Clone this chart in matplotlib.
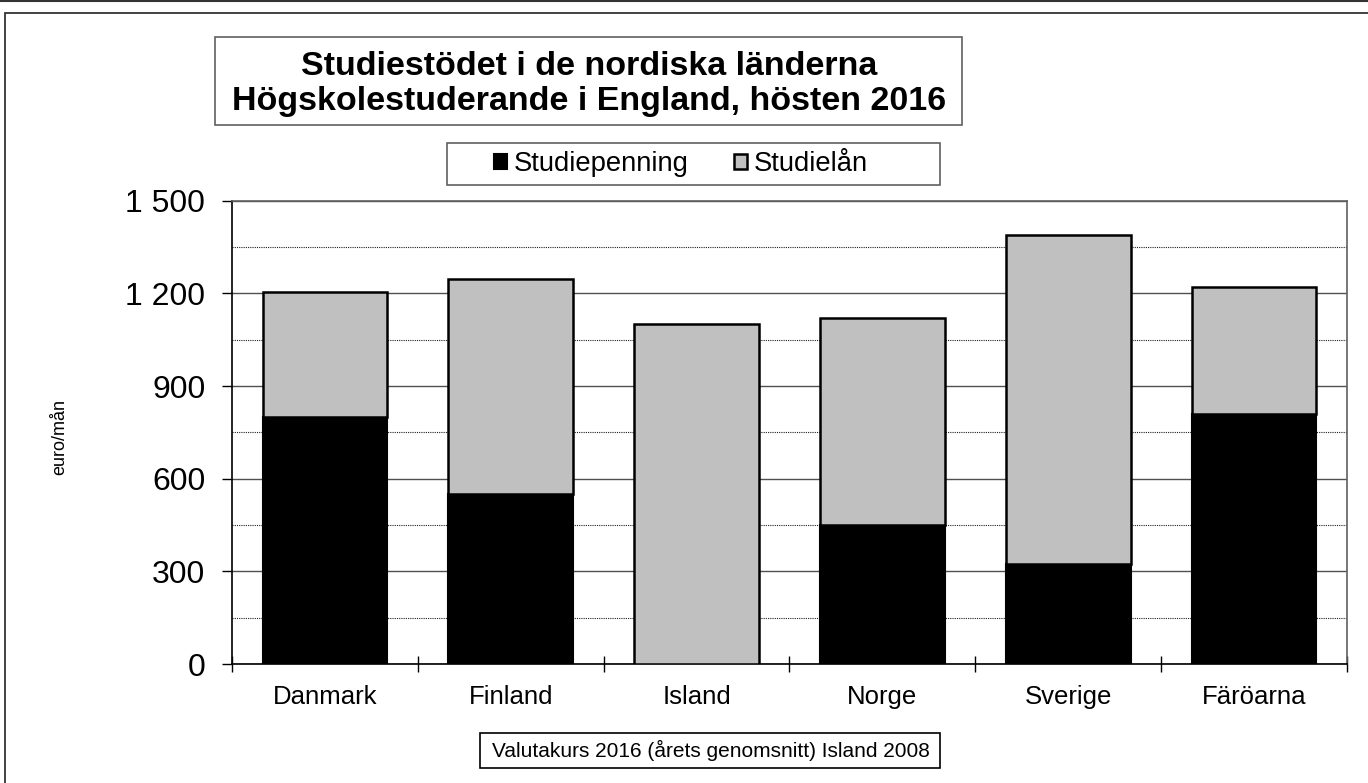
import matplotlib.pyplot as plt
from matplotlib.patches import Rectangle
from matplotlib.lines import Line2D
from matplotlib.ticker import FuncFormatter, MultipleLocator

plt.rcParams['font.family'] = ['Liberation Sans', 'DejaVu Sans']

countries = ["Danmark", "Finland", "Island", "Norge", "Sverige", "Färöarna"]
studiepenning = [800, 550, 0, 450, 325, 810]
studielan = [405, 695, 1100, 670, 1065, 410]

W, H = 1368, 783
fig = plt.figure(figsize=(W / 100, H / 100), dpi=100)


def px_box(x0, y0, x1, y1, **kw):
    # rectangle given in pixel coords, origin top-left
    r = Rectangle((x0 / W, 1 - y1 / H), (x1 - x0) / W, (y1 - y0) / H,
                  transform=fig.transFigure, **kw)
    fig.add_artist(r)
    return r


# outer chart frame
px_box(5, 13, W + 20, H + 20, fill=False, edgecolor="#333333", lw=1.3)
fig.add_artist(Line2D([0, 1], [1 - 1 / H, 1 - 1 / H], transform=fig.transFigure,
                      color="#333333", lw=1.5))

ax = fig.add_axes([232 / W, 1 - 664 / H, (1347 - 232) / W, (664 - 200.7) / H])

x = range(len(countries))
ax.bar(x, studiepenning, width=0.67, color="black", edgecolor="black",
       linewidth=1.5, label="Studiepenning", zorder=3)
ax.bar(x, studielan, width=0.67, bottom=studiepenning, color="#c0c0c0",
       edgecolor="black", linewidth=1.8, label="Studielån", zorder=3)

ax.set_xlim(-0.5, 5.5)
ax.set_ylim(0, 1500)

ax.yaxis.set_major_locator(MultipleLocator(300))
ax.yaxis.set_minor_locator(MultipleLocator(150))
ax.yaxis.set_major_formatter(FuncFormatter(lambda v, p: f"{int(v):,}".replace(",", " ")))
ax.grid(axis="y", which="major", color="#505050", lw=1.0, zorder=0)
ax.grid(axis="y", which="minor", color="#202020", lw=0.8, linestyle=(0, (1, 1)), zorder=0)
ax.tick_params(axis="y", which="major", direction="out", length=7.2, width=1,
               pad=12, labelsize=23)
ax.tick_params(axis="y", which="minor", length=0)

# category boundary ticks, labels sit between them
ax.set_xticks([i - 0.5 for i in range(len(countries) + 1)])
ax.set_xticklabels([])
ax.set_xticks(list(x), minor=True)
ax.set_xticklabels(countries, minor=True)
ax.tick_params(axis="x", which="major", direction="inout", length=11, width=1)
ax.tick_params(axis="x", which="minor", length=0, pad=15, labelsize=18.5)

for side in ["left", "bottom"]:
    ax.spines[side].set_color("black")
    ax.spines[side].set_linewidth(1.2)
for side in ["top", "right"]:
    ax.spines[side].set_color("#606060")
    ax.spines[side].set_linewidth(1.2)

fig.text(60 / W, 1 - 437 / H, "euro/mån", rotation=90, ha="center", va="center",
         fontsize=13)

# title box
px_box(215, 37, 962, 125, fill=False, edgecolor="#606060", lw=1.2)
fig.text(589 / W, 1 - 84 / H,
         "Studiestödet i de nordiska länderna\nHögskolestuderande i England, hösten 2016",
         ha="center", va="center", fontsize=24.5, fontweight="bold", linespacing=1.15)

# legend box
px_box(447, 143, 940, 185, facecolor="white", edgecolor="#606060", lw=1.2)
fig.legend(loc="center", bbox_to_anchor=(681 / W, 1 - 164 / H), ncol=2,
           frameon=False, fontsize=19.7, handlelength=0.48, handleheight=0.48,
           handletextpad=0.26, columnspacing=1.65)

# exchange rate note
px_box(480, 733, 940, 768, fill=False, edgecolor="black", lw=1.2)
fig.text(711 / W, 1 - 750.5 / H, "Valutakurs 2016 (årets genomsnitt) Island 2008",
         ha="center", va="center", fontsize=15)

fig.savefig("out.png", dpi=100)
